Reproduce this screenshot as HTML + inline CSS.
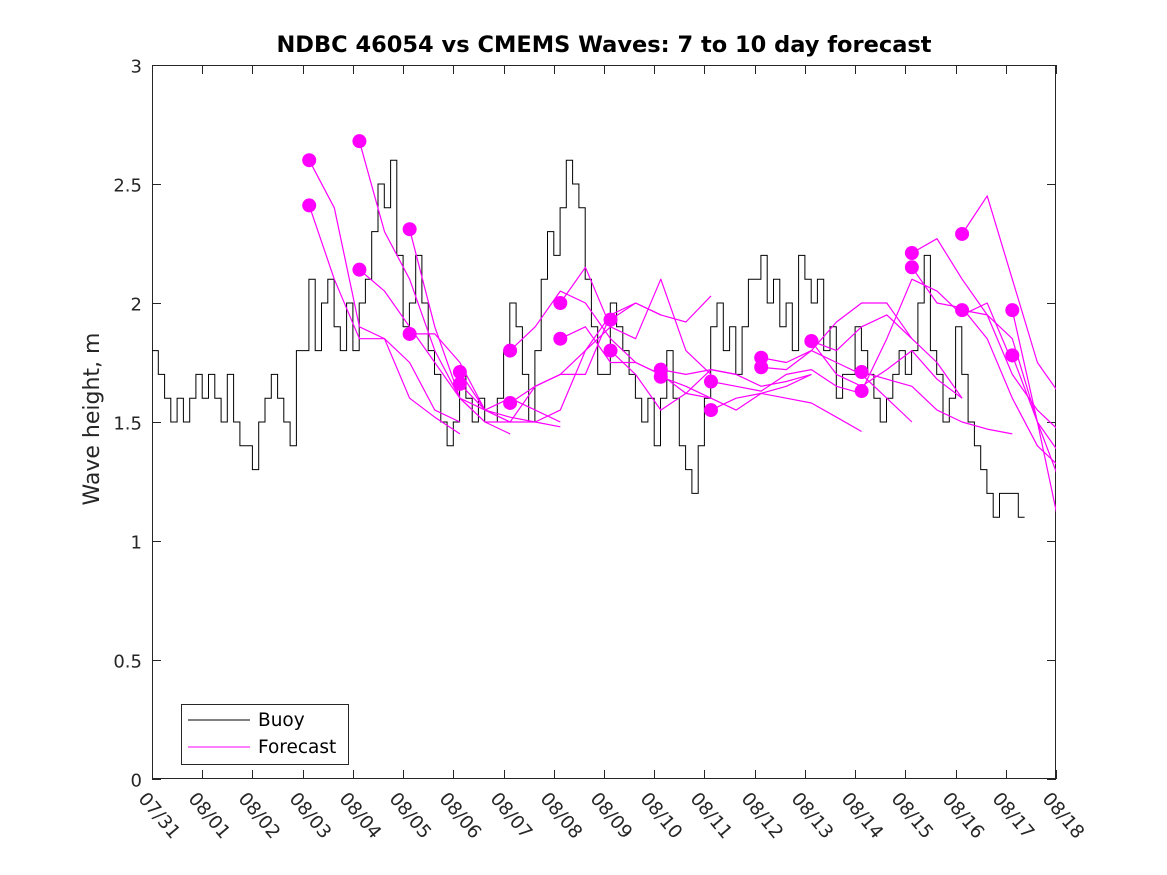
<!DOCTYPE html>
<html><head><meta charset="utf-8"><style>
body{margin:0;background:#fff;}
svg{display:block;font-family:"DejaVu Sans","Liberation Sans",sans-serif;}
</style></head><body>
<svg id="chart" width="1167" height="875" viewBox="0 0 1167 875">
<rect x="0" y="0" width="1167" height="875" fill="#fff"/>
<text x="604" y="52" text-anchor="middle" font-size="22.5" font-weight="bold">NDBC 46054 vs CMEMS Waves: 7 to 10 day forecast</text>
<text transform="translate(99,419) rotate(-90)" text-anchor="middle" font-size="22" fill="#262626">Wave height, m</text>
<g id="axes"></g>
<g id="series" clip-path="url(#clip)"></g>
<defs><clipPath id="clip"><rect x="152" y="65" width="904" height="714"/></clipPath></defs>
<g id="dots"></g>
<g>
<rect x="181.5" y="704.5" width="167" height="60" fill="#fff" stroke="#262626" stroke-width="1"/>
<line x1="188" y1="720" x2="250" y2="720" stroke="#000"/>
<text x="258" y="726" font-size="18.5" fill="#000">Buoy</text>
<line x1="188" y1="747" x2="250" y2="747" stroke="#ff00ff"/>
<text x="258" y="753" font-size="18.5" fill="#000">Forecast</text>
</g>
</svg>
<script>
const dateLabels=["07/31","08/01","08/02","08/03","08/04","08/05","08/06","08/07","08/08","08/09","08/10","08/11","08/12","08/13","08/14","08/15","08/16","08/17","08/18"];
const yTicks=[0,0.5,1,1.5,2,2.5,3];
const yTickLabels=["0","0.5","1","1.5","2","2.5","3"];
const buoyStepsPerDay=8;
const buoy=[
1.8,1.7,1.6,1.5,1.6,1.5,1.6,1.7,
1.6,1.7,1.6,1.5,1.7,1.5,1.4,1.4,
1.3,1.5,1.6,1.7,1.6,1.5,1.4,1.8,
1.8,2.1,1.8,2.0,2.1,1.9,1.8,2.0,
1.8,2.0,2.1,2.3,2.5,2.4,2.6,2.2,
1.9,2.0,2.2,2.0,1.8,1.7,1.5,1.4,
1.5,1.7,1.6,1.5,1.6,1.5,1.5,1.6,
1.8,2.0,1.9,1.7,1.5,1.8,2.1,2.3,
2.2,2.4,2.6,2.5,2.4,2.1,1.9,1.7,
1.7,2.0,1.9,1.8,1.7,1.6,1.5,1.6,
1.4,1.6,1.8,1.6,1.4,1.3,1.2,1.4,
1.6,1.9,2.0,1.8,1.9,1.7,1.9,2.1,
2.1,2.2,2.0,2.1,1.9,2.0,1.8,2.2,
2.1,2.0,2.1,1.8,1.9,1.6,1.7,1.7,
1.9,1.8,1.7,1.6,1.5,1.6,1.7,1.8,
1.7,1.8,2.0,2.2,1.8,1.7,1.5,1.6,
1.9,1.7,1.5,1.4,1.3,1.2,1.1,1.2,
1.2,1.2,1.1];
const fcStart=[3,3,4,4,5,5,6,6,7,7,8,8,9,9,10,10,11,11,12,12,13,13,14,14,15,15,16,16,17,17];
const fcValues=[
[2.60,2.40,1.90,1.85,1.60,1.52,1.45],
[2.41,2.10,1.85,1.85,1.75,1.55,1.50],
[2.68,2.30,2.10,1.80,1.60,1.50,1.45],
[2.14,2.05,1.90,1.75,1.60,1.50,1.50],
[2.31,1.90,1.60,1.55,1.60,1.55,1.50],
[1.87,1.87,1.75,1.55,1.52,1.50,1.48],
[1.71,1.55,1.50,1.65,1.70,1.70,1.95],
[1.66,1.55,1.50,1.50,1.55,1.80,1.90],
[1.80,1.90,2.05,2.00,1.85,1.75,1.70],
[1.58,1.65,1.70,1.80,1.95,2.00,1.95],
[2.00,2.15,1.90,1.85,2.10,1.80,1.70],
[1.85,1.90,1.75,1.75,1.70,1.62,1.60],
[1.93,2.00,1.95,1.92,2.03],
[1.80,1.70,1.55,1.62,1.72,1.70],
[1.72,1.70,1.72,1.70,1.65,1.67,1.70],
[1.69,1.65,1.60,1.55,1.62,1.65,1.70],
[1.67,1.65,1.63,1.70,1.72,1.65,1.62],
[1.55,1.60,1.62,1.60,1.58,1.52,1.46],
[1.77,1.75,1.80,1.92,2.00,2.00,1.85],
[1.73,1.72,1.80,1.75,1.70,1.60,1.50],
[1.84,1.70,1.65,1.72,1.80,1.68,1.60],
[1.84,1.80,1.90,1.95,1.85,1.75,1.60],
[1.71,1.68,1.65,1.55,1.50,1.47,1.45],
[1.63,1.85,2.10,2.05,1.95,2.00,1.75],
[2.21,2.27,2.10,1.95,1.85,1.50,1.35],
[2.15,2.00,1.98,1.85,1.60,1.40,1.30],
[2.29,2.45,2.10,1.75,1.60,1.50,1.40],
[1.97,1.95,1.70,1.55,1.45,1.25,1.07],
[1.97,1.50,1.22,1.35],
[1.78,1.50,1.00,1.02]];
const X0=152,X1=1056,Y0=779,Y1=65;
function xs(d){return X0+d*(X1-X0)/18;}
function ys(v){return Y0-v*(Y0-Y1)/3;}
const NS="http://www.w3.org/2000/svg";
function mk(tag,attrs,parent){const e=document.createElementNS(NS,tag);for(const k in attrs)e.setAttribute(k,attrs[k]);parent.appendChild(e);return e;}
const axes=document.getElementById('axes');
const frame=mk('rect',{x:X0+0.5,y:Y1+0.5,width:X1-X0-1,height:Y0-Y1-1,fill:'none',stroke:'#262626','stroke-width':1},axes);


yTicks.forEach((v,i)=>{
 const y=Math.round(ys(v))+0.5;
 const t=mk('path',{d:`M${X0} ${y}h9M${X1} ${y}h-9`,stroke:'#262626'},axes);
 
 
 const l=mk('text',{x:X0-10,y:y+7,'text-anchor':'end','font-size':18,fill:'#262626'},axes);
 l.textContent=yTickLabels[i];
 
 
});
dateLabels.forEach((lab,i)=>{
 const x=Math.round(xs(i))+0.5;
 const t=mk('path',{d:`M${x} ${Y0}v-9M${x} ${Y1}v9`,stroke:'#262626'},axes);
 
 
 const l=mk('text',{transform:`translate(${x-15},${Y0+20}) rotate(50)`,'font-size':18.5,fill:'#262626'},axes);
 l.textContent=lab;
 
 
});
const series=document.getElementById('series');
let d='';
buoy.forEach((v,i)=>{const x=xs(i/buoyStepsPerDay),y=ys(v);d+=(i?`H${x.toFixed(1)}V${y.toFixed(1)}`:`M${x.toFixed(1)} ${y.toFixed(1)}`);});
d+=`H${xs(buoy.length/buoyStepsPerDay).toFixed(1)}`;
const bl=mk('path',{d:d,fill:'none',stroke:'#000','stroke-width':1},series);


const dots=document.getElementById('dots');
fcValues.forEach((vals,k)=>{
 const s=fcStart[k]+0.13;
 const pd=vals.map((v,j)=>(j?'L':'M')+xs(s+j*0.5).toFixed(1)+' '+ys(v).toFixed(1)).join('');
 const p=mk('path',{d:pd,fill:'none',stroke:'#ff00ff','stroke-width':1.2,'stroke-linejoin':'round'},series);
 
 
 const c=mk('circle',{cx:xs(s),cy:ys(vals[0]),r:7,fill:'#ff00ff'},dots);
 
 
});
</script>
</body></html>
